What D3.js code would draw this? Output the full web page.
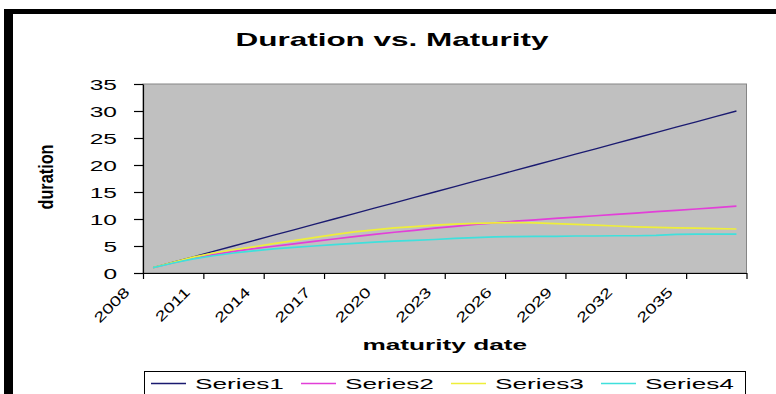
<!DOCTYPE html>
<html>
<head>
<meta charset="utf-8">
<script src="https://cdn.jsdelivr.net/npm/d3@7"></script>
<style>
  html, body { margin: 0; padding: 0; background: #fff; }
  svg { display: block; font-family: "Liberation Sans", Arial, sans-serif; }
</style>
</head>
<body>
<svg id="chart" width="776" height="394"></svg>
<script>
// Maturity years (one category per year)
const years = [2008, 2009, 2010, 2011, 2012, 2013, 2014, 2015, 2016, 2017,
               2018, 2019, 2020, 2021, 2022, 2023, 2024, 2025, 2026, 2027,
               2028, 2029, 2030, 2031, 2032, 2033, 2034, 2035, 2036, 2037];

// Duration of each bond, by maturity
const series1 = [1, 2, 3, 4, 5, 6, 7, 8, 9, 10,
                 11, 12, 13, 14, 15, 16, 17, 18, 19, 20,
                 21, 22, 23, 24, 25, 26, 27, 28, 29, 30];
const series2 = [1.0, 1.9, 2.75, 3.4, 4.0, 4.5, 4.95, 5.4, 5.85, 6.3,
                 6.75, 7.15, 7.55, 7.9, 8.3, 8.65, 9.0, 9.3, 9.6, 9.85,
                 10.1, 10.35, 10.6, 10.85, 11.1, 11.35, 11.6, 11.85, 12.1, 12.4];
const series3 = [1.0, 2.0, 2.95, 3.7, 4.3, 4.85, 5.45, 6.0, 6.55, 7.1,
                 7.6, 8.0, 8.35, 8.6, 8.85, 9.05, 9.2, 9.3, 9.35, 9.3,
                 9.15, 9.0, 8.85, 8.7, 8.55, 8.45, 8.35, 8.3, 8.2, 8.15];
const series4 = [1.0, 1.85, 2.6, 3.2, 3.7, 4.1, 4.45, 4.75, 5.0, 5.25,
                 5.5, 5.7, 5.9, 6.05, 6.2, 6.4, 6.55, 6.7, 6.75, 6.8,
                 6.8, 6.85, 6.85, 6.9, 6.9, 6.95, 7.15, 7.2, 7.2, 7.2];

const seriesNames = ["Series1", "Series2", "Series3", "Series4"];
const yTicks = [0, 5, 10, 15, 20, 25, 30, 35];
const labelStep = 3;

const seriesData = [series1, series2, series3, series4];
const colors = ["#1a1a70", "#e23fd8", "#eeee3a", "#3fe0dc"];
const stretch = 1.75;      // wide lettering of the horizontal texts
const tickStretch = 1.4;   // slanted year labels

const svg = d3.select("#chart");
const plot = { left: 143, right: 746.5, top: 84, bottom: 273 };

// Frame of the chart area
svg.append("rect").attr("x", 0).attr("y", 0).attr("width", 776).attr("height", 394).attr("fill", "#fff");
svg.append("rect").attr("x", 4).attr("y", 9).attr("width", 772).attr("height", 5).attr("fill", "#000");
svg.append("rect").attr("x", 4).attr("y", 9).attr("width", 9).attr("height", 385).attr("fill", "#000");

// Scales
const x = d3.scaleBand().domain(years).range([plot.left, plot.right]).padding(0);
const xTick = d3.scaleLinear().domain([0, years.length]).range([plot.left, plot.right]);
const y = d3.scaleLinear().domain([0, 35]).range([plot.bottom, plot.top]);

// Plot area
svg.append("rect")
  .attr("x", plot.left).attr("y", plot.top)
  .attr("width", plot.right - plot.left).attr("height", plot.bottom - plot.top)
  .attr("fill", "#c0c0c0").attr("stroke", "#858585").attr("stroke-width", 1);

// Title
svg.append("text")
  .attr("transform", `translate(392,46) scale(${stretch},1)`)
  .attr("text-anchor", "middle")
  .attr("font-size", 18).attr("font-weight", "bold")
  .text("Duration vs. Maturity");

// Y axis
const yAxis = svg.append("g")
  .attr("transform", `translate(${plot.left},0)`)
  .call(d3.axisLeft(y).tickValues(yTicks).tickSize(9).tickSizeOuter(0));
yAxis.select(".domain").attr("stroke", "#000").attr("stroke-width", 1.2);
yAxis.selectAll(".tick line").attr("stroke", "#000").attr("stroke-width", 1.2);
yAxis.selectAll(".tick text")
  .attr("x", 0).attr("dy", "0.36em")
  .attr("transform", `translate(-26,0) scale(${stretch},1)`)
  .attr("font-size", 14).attr("fill", "#000").attr("font-family", "Liberation Sans, Arial, sans-serif");

// X axis: ticks between categories, a label every third year
const xTickVals = d3.range(0, years.length + 1, labelStep);
const xAxis = svg.append("g")
  .attr("transform", `translate(0,${plot.bottom})`)
  .call(d3.axisBottom(xTick).tickValues(xTickVals).tickSize(6).tickSizeOuter(0)
    .tickFormat(i => i < years.length ? years[i] : ""));
xAxis.select(".domain").attr("stroke", "#000").attr("stroke-width", 1.2);
xAxis.selectAll(".tick line").attr("stroke", "#000").attr("stroke-width", 1.2);
xAxis.selectAll(".tick text")
  .attr("x", 0).attr("y", 0).attr("dy", 0)
  .attr("text-anchor", "end")
  .attr("transform", `translate(-13,20) rotate(-45) scale(${tickStretch},1)`)
  .attr("font-size", 14).attr("fill", "#000").attr("font-family", "Liberation Sans, Arial, sans-serif");

// Axis titles
svg.append("text")
  .attr("transform", `translate(444.75,350) scale(${stretch},1)`)
  .attr("text-anchor", "middle")
  .attr("font-size", 15).attr("font-weight", "bold")
  .text("maturity date");

svg.append("text")
  .attr("transform", "translate(53,177) rotate(-90) scale(1,1.3)")
  .attr("text-anchor", "middle")
  .attr("font-size", 15).attr("font-weight", "bold")
  .attr("textLength", 65).attr("lengthAdjust", "spacingAndGlyphs")
  .text("duration");

// Series lines
const line = d3.line()
  .x((d, i) => x(years[i]) + x.bandwidth() / 2)
  .y(d => y(d));

svg.append("g").selectAll("path")
  .data(seriesData)
  .join("path")
  .attr("d", line)
  .attr("fill", "none")
  .attr("stroke", (d, i) => colors[i])
  .attr("stroke-width", (d, i) => i === 0 ? 1.3 : 1.7);

// Legend
const legend = svg.append("g");
legend.append("rect")
  .attr("x", 144.5).attr("y", 371.5).attr("width", 601).attr("height", 26)
  .attr("fill", "#fff").attr("stroke", "#000").attr("stroke-width", 1);
const item = legend.selectAll("g.item")
  .data(seriesNames)
  .join("g")
  .attr("class", "item")
  .attr("transform", (d, i) => `translate(${151 + i * 150},0)`);
item.append("line")
  .attr("x1", 0).attr("x2", 35).attr("y1", 383.5).attr("y2", 383.5)
  .attr("stroke", (d, i) => colors[i]).attr("stroke-width", 1.7);
item.append("text")
  .attr("transform", `translate(44,389) scale(${stretch},1)`)
  .attr("font-size", 15)
  .text(d => d);
</script>
</body>
</html>
